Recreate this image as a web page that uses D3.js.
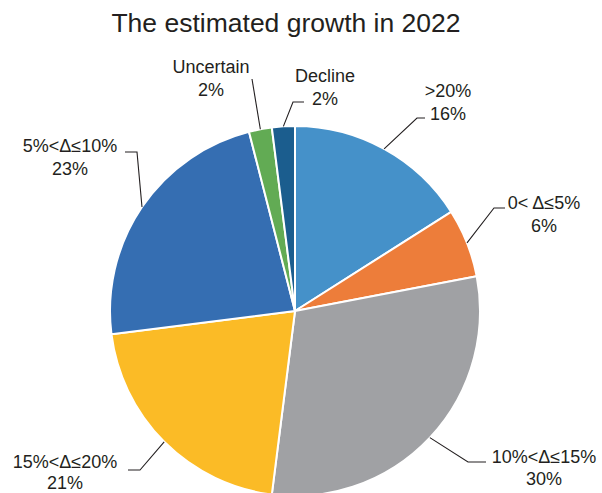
<!DOCTYPE html>
<html>
<head>
<meta charset="utf-8">
<script src="https://cdn.jsdelivr.net/npm/d3@7"></script>
<style>
  html, body { margin: 0; padding: 0; background: #fff; }
  svg { display: block; }
  text { font-family: "Liberation Sans", Arial, Helvetica, sans-serif; fill: #231f20; }
</style>
</head>
<body>
<svg id="chart" width="602" height="493"></svg>
<script>
// Share of respondents by estimated growth band, clockwise from 12 o'clock
const categories = [">20%", "0< \u0394\u22645%", "10%<\u0394\u226415%", "15%<\u0394\u226420%", "5%<\u0394\u226410%", "Uncertain", "Decline"];
const shares = [16, 6, 30, 21, 23, 2, 2];
const colors = ["#4591c9", "#ed7d3a", "#a0a1a4", "#fbbb26", "#356eb2", "#62ab54", "#1b5d8e"];
const title = "The estimated growth in 2022";

// Label placement: text centre, first baseline, line gap, leader elbow and end point
const labelLayout = [
  { tx: 448, ty: 97,  gap: 22.5, elbow: [417, 118], end: [425, 118] },
  { tx: 544, ty: 209, gap: 22.5, elbow: [494, 208], end: [505, 208] },
  { tx: 544, ty: 463, gap: 21.5, elbow: [468, 462], end: [486, 462] },
  { tx: 65,  ty: 468, gap: 21,   elbow: [140, 470], end: [128, 470] },
  { tx: 70,  ty: 152, gap: 22.5, elbow: [137, 152], end: [125, 152] },
  { tx: 211, ty: 73,  gap: 22.5, elbow: null,       end: [252, 79] },
  { tx: 325, ty: 82,  gap: 22.5, elbow: [293, 102], end: [304, 102] }
];

const svg = d3.select("#chart");
const cx = 295, cy = 311, r = 185;

svg.append("text")
  .attr("x", 286).attr("y", 32)
  .attr("text-anchor", "middle")
  .attr("font-size", 26.5)
  .text(title);

const data = categories.map((c, i) => ({ name: c, value: shares[i], color: colors[i], layout: labelLayout[i] }));

const pie = d3.pie().value(d => d.value).sort(null).startAngle(0).endAngle(2 * Math.PI);
const arc = d3.arc().innerRadius(0).outerRadius(r);
const arcs = pie(data);

const g = svg.append("g").attr("transform", `translate(${cx},${cy})`);

g.selectAll("path.slice")
  .data(arcs)
  .join("path")
  .attr("class", "slice")
  .attr("d", arc)
  .attr("fill", d => d.data.color)
  .attr("stroke", "#fff")
  .attr("stroke-width", 2)
  .attr("stroke-linejoin", "round");

// Leader lines from the rim at each slice's mid-angle
const leaders = svg.append("g");
arcs.forEach(a => {
  const mid = (a.startAngle + a.endAngle) / 2;
  const rim = [cx + r * Math.sin(mid), cy - r * Math.cos(mid)];
  const L = a.data.layout;
  const pts = [rim];
  if (L.elbow) pts.push(L.elbow);
  pts.push(L.end);
  leaders.append("path")
    .attr("d", d3.line()(pts))
    .attr("fill", "none")
    .attr("stroke", "#231f20")
    .attr("stroke-width", 1.1);
});

// Category and percentage labels
const labels = svg.append("g");
arcs.forEach(a => {
  const L = a.data.layout;
  const t = labels.append("text")
    .attr("text-anchor", "middle")
    .attr("font-size", 18);
  t.append("tspan").attr("x", L.tx).attr("y", L.ty).text(a.data.name);
  t.append("tspan").attr("x", L.tx).attr("y", L.ty + L.gap).text(a.data.value + "%");
});
</script>
</body>
</html>
